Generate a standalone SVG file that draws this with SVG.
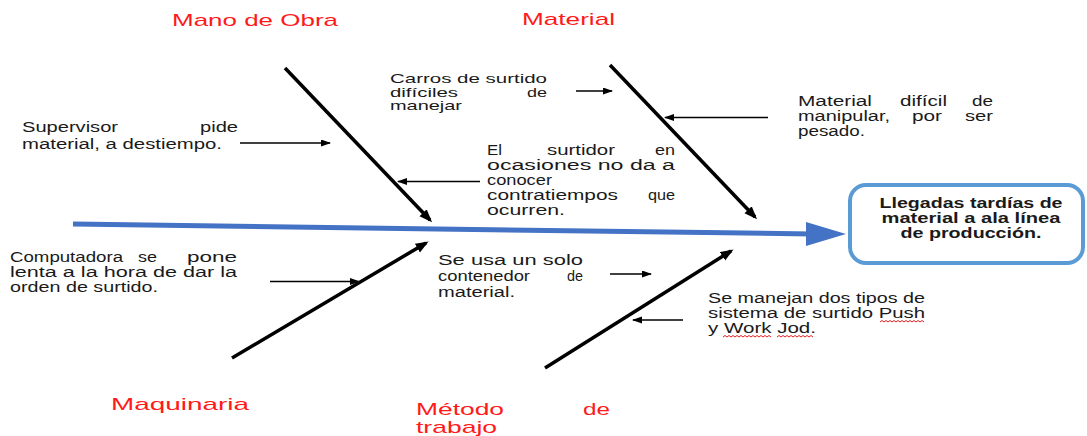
<svg xmlns="http://www.w3.org/2000/svg" width="1087" height="436" viewBox="0 0 1087 436">
<style>
.t{font-family:"Liberation Sans",Arial,sans-serif;font-size:14px;fill:#1a1a1a}
.s{font-family:"Liberation Sans",Arial,sans-serif;font-size:13px;fill:#1a1a1a}
.b{font-family:"Liberation Sans",Arial,sans-serif;font-size:14px;font-weight:bold;fill:#1a1a1a}
.r{font-family:"Liberation Sans",Arial,sans-serif;font-size:17px;fill:#ff1a1a}
.bone{stroke:#000;stroke-width:3.5;fill:none;marker-end:url(#big)}
.sm{stroke:#000;stroke-width:1.3;fill:none;marker-end:url(#small)}
.wave{stroke:#e02020;stroke-width:1;fill:none}
</style>
<defs>
<marker id="big" markerUnits="userSpaceOnUse" markerWidth="14" markerHeight="12" refX="10" refY="5" orient="auto">
<path d="M0,0 L13,5 L0,10 z" fill="#000"/>
</marker>
<marker id="small" markerUnits="userSpaceOnUse" markerWidth="12" markerHeight="8" refX="9" refY="3.5" orient="auto">
<path d="M0,0 L10,3.5 L0,7 z" fill="#000"/>
</marker>
</defs>
<rect width="1087" height="436" fill="#fff"/>
<g id="connectors">
<line x1="73" y1="224" x2="812" y2="234" stroke="#4472c4" stroke-width="5"/>
<polygon points="806,222 846,234 806,246" fill="#4472c4"/>
<line class="bone" x1="285" y1="68" x2="430" y2="220"/>
<line class="bone" x1="610" y1="65" x2="755" y2="217"/>
<line class="bone" x1="232" y1="358" x2="426" y2="243"/>
<line class="bone" x1="545" y1="368" x2="731" y2="251"/>
<line class="sm" x1="240" y1="143" x2="330" y2="143"/>
<line class="sm" x1="576" y1="91" x2="612" y2="91"/>
<line class="sm" x1="768" y1="117.5" x2="665" y2="117.5"/>
<line class="sm" x1="480" y1="181.5" x2="398" y2="181.5"/>
<line class="sm" x1="270" y1="281.5" x2="359" y2="281.5"/>
<line class="sm" x1="610" y1="274" x2="651" y2="274"/>
<line class="sm" x1="683" y1="320" x2="633" y2="320"/>
</g>
<g id="effect">
<rect x="850" y="185" width="233" height="78" rx="16" fill="#fff" stroke="#5b9bd5" stroke-width="4"/>
<text class="b" x="971" y="208" text-anchor="middle" textLength="183" lengthAdjust="spacingAndGlyphs">Llegadas tardías de</text>
<text class="b" x="971" y="223" text-anchor="middle" textLength="179" lengthAdjust="spacingAndGlyphs">material a ala línea</text>
<text class="b" x="971" y="238" text-anchor="middle" textLength="141" lengthAdjust="spacingAndGlyphs">de producción.</text>
</g>
<g id="cat-mano">
<text class="r" x="172" y="26" textLength="166" lengthAdjust="spacingAndGlyphs">Mano de Obra</text>
</g>
<g id="cat-material">
<text class="r" x="522" y="25" textLength="93" lengthAdjust="spacingAndGlyphs">Material</text>
</g>
<g id="cat-maquinaria">
<text class="r" x="111" y="410" textLength="138" lengthAdjust="spacingAndGlyphs">Maquinaria</text>
</g>
<g id="cat-metodo">
<text class="r" x="416" y="415" textLength="88" lengthAdjust="spacingAndGlyphs">Método</text>
<text class="r" x="583" y="415" textLength="27" lengthAdjust="spacingAndGlyphs">de</text>
<text class="r" x="416" y="433" textLength="81" lengthAdjust="spacingAndGlyphs">trabajo</text>
</g>
<g id="cause-supervisor">
<text class="t" x="22" y="132" textLength="96" lengthAdjust="spacingAndGlyphs">Supervisor</text>
<text class="t" x="200" y="132" textLength="38" lengthAdjust="spacingAndGlyphs">pide</text>
<text class="t" x="22" y="149" textLength="200" lengthAdjust="spacingAndGlyphs">material, a destiempo.</text>
</g>
<g id="cause-carros">
<text class="s" x="390" y="83" textLength="157" lengthAdjust="spacingAndGlyphs">Carros de surtido</text>
<text class="s" x="390" y="96.5" textLength="68" lengthAdjust="spacingAndGlyphs">difíciles</text>
<text class="s" x="527" y="96.5" textLength="20" lengthAdjust="spacingAndGlyphs">de</text>
<text class="s" x="390" y="110" textLength="72" lengthAdjust="spacingAndGlyphs">manejar</text>
</g>
<g id="cause-surtidor">
<text class="t" x="487" y="155" textLength="15" lengthAdjust="spacingAndGlyphs">El</text>
<text class="t" x="547" y="155" textLength="68" lengthAdjust="spacingAndGlyphs">surtidor</text>
<text class="t" x="655" y="155" textLength="20" lengthAdjust="spacingAndGlyphs">en</text>
<text class="t" x="487" y="170" textLength="188" lengthAdjust="spacingAndGlyphs">ocasiones no da a</text>
<text class="t" x="487" y="185" textLength="65" lengthAdjust="spacingAndGlyphs">conocer</text>
<text class="t" x="487" y="200" textLength="131" lengthAdjust="spacingAndGlyphs">contratiempos</text>
<text class="t" x="648" y="200" textLength="27" lengthAdjust="spacingAndGlyphs">que</text>
<text class="t" x="487" y="215" textLength="78" lengthAdjust="spacingAndGlyphs">ocurren.</text>
</g>
<g id="cause-pesado">
<text class="t" x="798" y="106" textLength="74" lengthAdjust="spacingAndGlyphs">Material</text>
<text class="t" x="900" y="106" textLength="47" lengthAdjust="spacingAndGlyphs">difícil</text>
<text class="t" x="972" y="106" textLength="21" lengthAdjust="spacingAndGlyphs">de</text>
<text class="t" x="798" y="121" textLength="92" lengthAdjust="spacingAndGlyphs">manipular,</text>
<text class="t" x="912" y="121" textLength="30" lengthAdjust="spacingAndGlyphs">por</text>
<text class="t" x="965" y="121" textLength="28" lengthAdjust="spacingAndGlyphs">ser</text>
<text class="t" x="798" y="136" textLength="67" lengthAdjust="spacingAndGlyphs">pesado.</text>
</g>
<g id="cause-computadora">
<text class="t" x="10" y="262" textLength="113" lengthAdjust="spacingAndGlyphs">Computadora</text>
<text class="t" x="138" y="262" textLength="19" lengthAdjust="spacingAndGlyphs">se</text>
<text class="t" x="187" y="262" textLength="50" lengthAdjust="spacingAndGlyphs">pone</text>
<text class="t" x="10" y="277" textLength="227" lengthAdjust="spacingAndGlyphs">lenta a la hora de dar la</text>
<text class="t" x="10" y="292" textLength="148" lengthAdjust="spacingAndGlyphs">orden de surtido.</text>
</g>
<g id="cause-contenedor">
<text class="t" x="438" y="265" textLength="145" lengthAdjust="spacingAndGlyphs">Se usa un solo</text>
<text class="t" x="438" y="281" textLength="92" lengthAdjust="spacingAndGlyphs">contenedor</text>
<text class="t" x="567" y="281" textLength="16" lengthAdjust="spacingAndGlyphs">de</text>
<text class="t" x="438" y="297" textLength="77" lengthAdjust="spacingAndGlyphs">material.</text>
</g>
<g id="cause-sistemas">
<text class="t" x="708" y="303" textLength="217" lengthAdjust="spacingAndGlyphs">Se manejan dos tipos de</text>
<text class="t" x="708" y="318" textLength="217" lengthAdjust="spacingAndGlyphs">sistema de surtido Push</text>
<text class="t" x="708" y="333" textLength="108" lengthAdjust="spacingAndGlyphs">y Work Jod.</text>
<path class="wave" d="M880,322 l2,-1.5 l2,1.5 l2,-1.5 l2,1.5 l2,-1.5 l2,1.5 l2,-1.5 l2,1.5 l2,-1.5 l2,1.5 l2,-1.5 l2,1.5 l2,-1.5 l2,1.5 l2,-1.5 l2,1.5 l2,-1.5 l2,1.5 l2,-1.5 l2,1.5 l2,-1.5 l2,1.5"/>
<path class="wave" d="M723,337 l2,-1.5 l2,1.5 l2,-1.5 l2,1.5 l2,-1.5 l2,1.5 l2,-1.5 l2,1.5 l2,-1.5 l2,1.5 l2,-1.5 l2,1.5 l2,-1.5 l2,1.5 l2,-1.5 l2,1.5 l2,-1.5 l2,1.5 l2,-1.5 l2,1.5 l2,-1.5 l2,1.5 l2,-1.5 l2,1.5"/>
<path class="wave" d="M777,337 l2,-1.5 l2,1.5 l2,-1.5 l2,1.5 l2,-1.5 l2,1.5 l2,-1.5 l2,1.5 l2,-1.5 l2,1.5 l2,-1.5 l2,1.5 l2,-1.5 l2,1.5 l2,-1.5 l2,1.5 l2,-1.5 l2,1.5"/>
</g>
</svg>
